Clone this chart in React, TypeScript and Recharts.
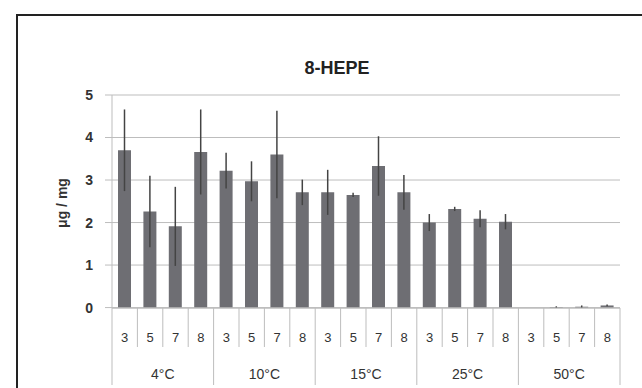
import { BarChart, Bar, XAxis, YAxis, CartesianGrid, ErrorBar } from "recharts"

// storage temperature groups, sampling days inside each group
const temps = ["4°C", "10°C", "15°C", "25°C", "50°C"]
const days = ["3", "5", "7", "8"]

// 8-HEPE content (µg / mg) and standard deviation, in temp x day order
const means = [
  3.7, 2.26, 1.91, 3.66,
  3.22, 2.97, 3.6, 2.71,
  2.71, 2.65, 3.33, 2.71,
  2.0, 2.32, 2.09, 2.02,
  0, 0.01, 0.02, 0.05,
]
const sds = [
  0.96, 0.84, 0.93, 1.0,
  0.42, 0.47, 1.03, 0.3,
  0.53, 0.05, 0.7, 0.41,
  0.2, 0.05, 0.2, 0.18,
  0, 0.02, 0.03, 0.02,
]
const yTicks = [0, 1, 2, 3, 4, 5]

const data = means.map((v, i) => ({
  key: `${temps[Math.floor(i / days.length)]}-${days[i % days.length]}`,
  day: days[i % days.length],
  temp: temps[Math.floor(i / days.length)],
  value: v,
  sd: sds[i],
}))

const FONT = "'Liberation Sans', Arial, sans-serif"
const LINE = "#bdbdbd"

// two-level category labels: day number + temperature group, with separators
const CategoryTick = (props: any) => {
  const { x, y, index, payload } = props
  const half = payload?.offset ?? 0
  const row = data[index]
  const n = days.length
  const first = index % n === 0
  const last = index === data.length - 1
  return (
    <g>
      <line x1={x - half} x2={x - half} y1={y} y2={y + (first ? 77 : 39)} stroke={LINE} />
      {last && <line x1={x + half} x2={x + half} y1={y} y2={y + 77} stroke={LINE} />}
      <text x={x} y={y + 34} textAnchor="middle" fontSize={13} fill="#333333" fontFamily={FONT}>
        {row.day}
      </text>
      {index % n === 1 && (
        <text x={x + half} y={y + 71} textAnchor="middle" fontSize={14} fill="#333333" fontFamily={FONT}>
          {row.temp}
        </text>
      )}
    </g>
  )
}

export default function App() {
  return (
    <div
      style={{
        position: "fixed",
        left: 0,
        top: 0,
        width: 642,
        height: 388,
        overflow: "hidden",
        background: "#fff",
      }}
    >
      <div
        style={{
          position: "absolute",
          left: 16,
          top: 14,
          width: 700,
          height: 500,
          border: "2px solid #222",
        }}
      />
      <div
        style={{
          position: "absolute",
          left: 0,
          width: 674,
          top: 58,
          textAlign: "center",
          fontFamily: FONT,
          fontWeight: "bold",
          fontSize: 18,
          color: "#222",
        }}
      >
        8-HEPE
      </div>
      <div
        style={{
          position: "absolute",
          left: 62,
          top: 203,
          transform: "translate(-50%, -50%) rotate(-90deg)",
          whiteSpace: "nowrap",
          fontFamily: FONT,
          fontWeight: "bold",
          fontSize: 14,
          color: "#333",
        }}
      >
        μg / mg
      </div>
      <BarChart
        width={642}
        height={388}
        data={data}
        margin={{ top: 95, right: 22, left: 40, bottom: 0 }}
        barSize={13}
        style={{ position: "absolute", left: 0, top: 0 }}
      >
        <CartesianGrid vertical={false} stroke={LINE} />
        <XAxis
          dataKey="key"
          interval={0}
          height={80}
          axisLine={{ stroke: LINE }}
          tickLine={false}
          tickSize={0}
          tickMargin={0}
          tick={<CategoryTick />}
        />
        <YAxis
          width={72}
          domain={[0, 5]}
          ticks={yTicks}
          axisLine={{ stroke: LINE }}
          tickLine={{ stroke: LINE }}
          tickSize={7}
          tickMargin={12}
          tick={{ fontSize: 14, fill: "#333", fontFamily: FONT, fontWeight: "bold" }}
        />
        <Bar dataKey="value" fill="#6e6e73" isAnimationActive={false}>
          <ErrorBar dataKey="sd" width={0} stroke="#444" strokeWidth={1.5} />
        </Bar>
      </BarChart>
    </div>
  )
}
